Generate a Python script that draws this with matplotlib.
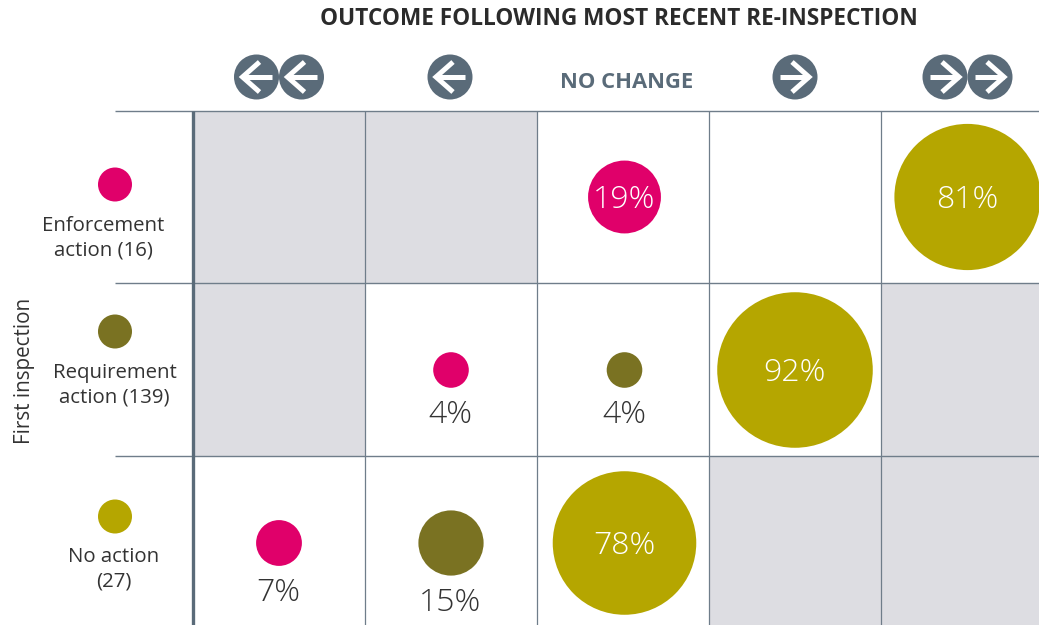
import numpy as np
import matplotlib
matplotlib.use("Agg")
import matplotlib.pyplot as plt
from matplotlib.patches import Circle, Rectangle

plt.rcParams['font.family'] = ['Open Sans', 'DejaVu Sans']

title = "OUTCOME FOLLOWING MOST RECENT RE-INSPECTION"
ylabel = "First inspection"
no_change = "NO CHANGE"
row_labels = ["Enforcement\naction (16)", "Requirement\naction (139)", "No action\n(27)"]
row_colors = ["#e0006a", "#7a7222", "#b5a600"]
col_steps = [-2, -1, 0, 1, 2]

# (row, column, percent, colour index)
rows_idx = [0, 0, 1, 1, 1, 2, 2, 2]
cols_idx = [2, 4, 1, 2, 3, 0, 1, 2]
percent = [19, 81, 4, 4, 92, 7, 15, 78]
color_idx = [0, 2, 0, 1, 2, 0, 1, 2]
grey_cells = [(0, 0), (0, 1), (1, 0), (1, 4), (2, 3), (2, 4)]

SLATE = "#5a6b79"
LINE = "#6f7d8a"
GREY = "#dddde2"
TEXT = "#333333"

x_edges = [193, 365, 537, 709, 881, 1053]
y_edges = [111, 283, 456, 629]
col_cx = [279, 451, 624.5, 795, 967.5]
icon_cx = [279, 450, 623.5, 795, 967.5]
row_cy = [197, 370, 543]
key_cy = [184.5, 331.5, 516.5]
key_cx = 115
label_x = [103, 114.5, 114]
label_y = [238, 385, 569]

fig = plt.figure(figsize=(10.39, 6.25), dpi=100)
ax = fig.add_axes([0, 0, 1, 1])
ax.set_xlim(0, 1039)
ax.set_ylim(625, 0)
ax.axis("off")

for r, c in grey_cells:
    ax.add_patch(Rectangle((x_edges[c], y_edges[r]), x_edges[c+1]-x_edges[c],
                           y_edges[r+1]-y_edges[r], fc=GREY, ec="none", zorder=1))
for y in y_edges[:3]:
    ax.plot([115, 1039], [y, y], color=LINE, lw=1.0, zorder=2, solid_capstyle="butt")
for x in x_edges[1:5]:
    ax.plot([x, x], [111, 625], color=LINE, lw=0.9, zorder=2, solid_capstyle="butt")
ax.plot([193, 193], [111, 625], color=SLATE, lw=2.4, zorder=3, solid_capstyle="butt")

def radius(p):
    return 2 + 7.9 * np.sqrt(p)

for r, c, p, k in zip(rows_idx, cols_idx, percent, color_idx):
    R = radius(p)
    ax.add_patch(Circle((col_cx[c], row_cy[r]), R, fc=row_colors[k], ec="none", zorder=4))
    if p >= 19:
        ax.text(col_cx[c] - 0.5, row_cy[r] + 3, f"{p}%", color="white", fontsize=23,
                fontweight="light", ha="center", va="center", zorder=5)
    else:
        ax.text(col_cx[c] - 0.5, row_cy[r] + R + 27, f"{p}%", color=TEXT, fontsize=23,
                fontweight="light", ha="center", va="center", zorder=5)

for i, lab in enumerate(row_labels):
    ax.add_patch(Circle((key_cx, key_cy[i]), 17, fc=row_colors[i], ec="none", zorder=4))
    ax.text(label_x[i], label_y[i], lab, color=TEXT, fontsize=14.7, ha="center", va="center",
            linespacing=1.3, zorder=5)

ax.text(25, 371, ylabel, rotation=90, color=TEXT, fontsize=14.9, ha="center", va="center")
ax.text(618.5, 19, title, color="#2b2b2b", fontsize=16.3, fontweight="bold", ha="center", va="center")
ax.text(627, 82, no_change, color=SLATE, fontsize=15.8, fontweight="bold", ha="center", va="center")

def arrow_icon(cx, direction, cy=77, R=22.5):
    ax.add_patch(Circle((cx, cy), R, fc=SLATE, ec="none", zorder=4))
    d = direction
    tip = cx - d * 14
    ax.plot([cx + d * 15, tip], [cy, cy], color="white", lw=3.6, zorder=5, solid_capstyle="butt")
    ax.plot([cx + d * 3, tip, cx + d * 3], [cy - 15, cy, cy + 15], color="white", lw=3.6,
            zorder=5, solid_joinstyle="miter", solid_capstyle="butt")

for c, step in zip(icon_cx, col_steps):
    n = abs(step)
    if n == 0:
        continue
    d = -1 if step > 0 else 1
    offsets = [0] if n == 1 else [-22.5, 22.5]
    for off in offsets:
        arrow_icon(c + off, d)

fig.savefig("out.png", dpi=100)
